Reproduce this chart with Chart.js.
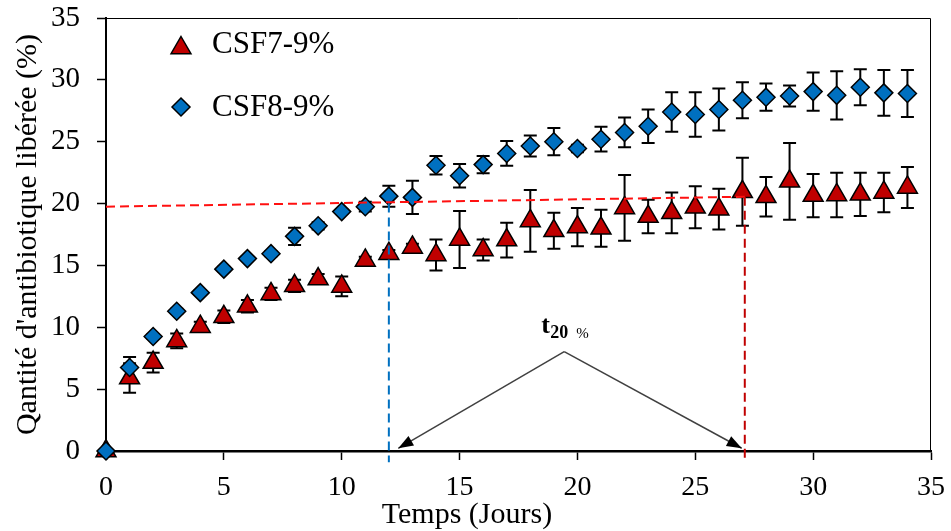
<!DOCTYPE html>
<html>
<head>
<meta charset="utf-8">
<script src="https://cdn.jsdelivr.net/npm/chart.js@4/dist/chart.umd.min.js"></script>
<style>
  html, body { margin: 0; padding: 0; background: #fff; }
  #wrap { width: 951px; height: 531px; }
</style>
</head>
<body>
<div id="wrap"><canvas id="chart" width="951" height="531"></canvas></div>
<script>
const FONT = '"Liberation Serif", "Times New Roman", serif';

const days = [0, 1, 2, 3, 4, 5, 6, 7, 8, 9, 10, 11, 12, 13, 14, 15, 16, 17, 18, 19, 20, 21, 22, 23, 24, 25, 26, 27, 28, 29, 30, 31, 32, 33, 34];

const csf7 = [0, 5.9, 7.15, 8.9, 10.05, 10.85, 11.7, 12.7, 13.35, 13.9, 13.3, 15.4, 15.95, 16.45, 15.85, 17.1, 16.25, 17.05, 18.6, 17.8, 18.1, 18.0, 19.65, 18.95, 19.25, 19.7, 19.55, 20.95, 20.55, 21.8, 20.65, 20.7, 20.75, 20.9, 21.3];
const csf7Err = [0, 1.2, 0.8, 0.6, 0.4, 0.5, 0.5, 0.5, 0.5, 0.4, 0.8, 0.3, 0.3, 0.3, 1.25, 2.3, 0.85, 1.4, 2.5, 1.45, 1.55, 1.5, 2.65, 1.35, 1.65, 1.7, 1.65, 2.75, 1.6, 3.1, 1.75, 1.8, 1.75, 1.6, 1.65];

const csf8 = [0, 6.75, 9.25, 11.3, 12.8, 14.7, 15.55, 15.95, 17.35, 18.2, 19.35, 19.75, 20.6, 20.5, 23.1, 22.25, 23.15, 24.05, 24.65, 25.0, 24.45, 25.2, 25.75, 26.25, 27.4, 27.2, 27.6, 28.35, 28.6, 28.7, 29.05, 28.75, 29.4, 28.95, 28.9];
const csf8Err = [0, 0.85, 0.2, 0.2, 0.2, 0.2, 0.2, 0.2, 0.7, 0.3, 0.2, 0.4, 0.85, 1.35, 0.75, 0.95, 0.7, 1.0, 0.85, 1.1, 0.3, 1.0, 1.2, 1.35, 1.6, 1.8, 1.7, 1.45, 1.1, 0.85, 1.55, 1.95, 1.45, 1.85, 1.9];

const seriesNames = ["CSF7-9%", "CSF8-9%"];
const xTitle = "Temps (Jours)";
const yTitle = "Qantité d'antibiotique libérée (%)";

// t20% guide lines (x, y in data units)
const guide20 = [{ x: 0, y: 19.75 }, { x: 27.1, y: 20.55 }];
const guide7 = [{ x: 27.1, y: 20.55 }, { x: 27.1, y: -0.9 }];
const guide8 = [{ x: 12, y: 20.0 }, { x: 12, y: -0.9 }];
const arrowLeft = [{ x: 19.44, y: 8.03 }, { x: 12.4, y: 0.22 }];
const arrowRight = [{ x: 19.44, y: 8.03 }, { x: 26.97, y: 0.22 }];

const toPoints = (xs, ys) => xs.map((x, i) => ({ x, y: ys[i] }));

const errorBars = {
  id: "errorBars",
  beforeDatasetsDraw(chart) {
    const { ctx, chartArea: a, scales: { y } } = chart;
    ctx.save();
    // plot frame (top and right)
    ctx.strokeStyle = "#000";
    ctx.lineWidth = 1;
    ctx.beginPath();
    ctx.moveTo(a.left, a.top + 0.5);
    ctx.lineTo(a.right - 0.5, a.top + 0.5);
    ctx.lineTo(a.right - 0.5, a.bottom);
    ctx.stroke();

    ctx.lineWidth = 2;
    chart.data.datasets.forEach((ds, i) => {
      if (!ds.errors) return;
      const meta = chart.getDatasetMeta(i);
      meta.data.forEach((pt, j) => {
        const e = ds.errors[j];
        if (!e) return;
        const v = ds.data[j].y;
        const top = y.getPixelForValue(v + e);
        const bot = y.getPixelForValue(v - e);
        ctx.beginPath();
        ctx.moveTo(pt.x, top);
        ctx.lineTo(pt.x, bot);
        ctx.moveTo(pt.x - 6.5, top);
        ctx.lineTo(pt.x + 6.5, top);
        ctx.moveTo(pt.x - 6.5, bot);
        ctx.lineTo(pt.x + 6.5, bot);
        ctx.stroke();
      });
    });
    ctx.restore();
  },
  afterDraw(chart) {
    const { ctx, scales: { x, y } } = chart;
    ctx.save();
    ctx.fillStyle = "#000";
    ctx.textBaseline = "alphabetic";

    // arrow heads at the end of both arrow datasets
    chart.data.datasets.forEach((ds, i) => {
      if (!ds.arrow) return;
      const pts = chart.getDatasetMeta(i).data;
      const p0 = pts[0], p1 = pts[pts.length - 1];
      const len = Math.hypot(p1.x - p0.x, p1.y - p0.y);
      const ux = (p1.x - p0.x) / len, uy = (p1.y - p0.y) / len;
      const L = 15, W = 5.5;
      ctx.beginPath();
      ctx.moveTo(p1.x, p1.y);
      ctx.lineTo(p1.x - ux * L - uy * W, p1.y - uy * L + ux * W);
      ctx.lineTo(p1.x - ux * L + uy * W, p1.y - uy * L - ux * W);
      ctx.closePath();
      ctx.fill();
    });

    // x axis title
    ctx.font = `30px ${FONT}`;
    ctx.textAlign = "center";
    ctx.fillText(xTitle, 467, 523);

    // t20% label above the arrows
    const ax = x.getPixelForValue(arrowLeft[0].x);
    const ay = y.getPixelForValue(arrowLeft[0].y);
    ctx.textAlign = "left";
    ctx.font = `bold 26px ${FONT}`;
    ctx.fillText("t", ax - 23, ay - 19);
    ctx.font = `bold 18px ${FONT}`;
    ctx.fillText("20", ax - 14, ay - 14);
    ctx.font = `15px ${FONT}`;
    ctx.fillText("%", ax + 12, ay - 14);

    // legend
    ctx.strokeStyle = "#000";
    ctx.lineWidth = 1.5;
    const r = 11.5;
    const tx = 181, ty = 48;
    ctx.beginPath();
    ctx.moveTo(tx, ty - r);
    ctx.lineTo(tx + r * 0.866, ty + r * 0.5);
    ctx.lineTo(tx - r * 0.866, ty + r * 0.5);
    ctx.closePath();
    ctx.fillStyle = "#C00000";
    ctx.fill();
    ctx.stroke();
    const d = 9, dx = 181, dy = 107;
    ctx.beginPath();
    ctx.moveTo(dx, dy - d);
    ctx.lineTo(dx + d, dy);
    ctx.lineTo(dx, dy + d);
    ctx.lineTo(dx - d, dy);
    ctx.closePath();
    ctx.fillStyle = "#0070C0";
    ctx.fill();
    ctx.stroke();
    ctx.fillStyle = "#000";
    ctx.font = `31px ${FONT}`;
    ctx.textBaseline = "middle";
    ctx.fillText(seriesNames[0], 212, 45);
    ctx.fillText(seriesNames[1], 212, 108);
    ctx.restore();
  },
};

const dashed = (data, color, order) => ({
  type: "line",
  data,
  borderColor: color,
  borderWidth: 2,
  borderDash: [9, 5],
  pointRadius: 0,
  clip: false,
  order,
});

const arrow = (data) => ({
  type: "line",
  data,
  arrow: true,
  borderColor: "#404040",
  borderWidth: 1.5,
  pointRadius: 0,
  clip: false,
  order: 0,
});

new Chart(document.getElementById("chart"), {
  type: "scatter",
  data: {
    datasets: [
      {
        label: seriesNames[0],
        data: toPoints(days, csf7),
        errors: csf7Err,
        pointStyle: "triangle",
        pointRadius: 11.5,
        pointBackgroundColor: "#C00000",
        pointBorderColor: "#000",
        pointBorderWidth: 1.5,
        clip: false,
        order: 3,
      },
      {
        label: seriesNames[1],
        data: toPoints(days, csf8),
        errors: csf8Err,
        pointStyle: "rectRot",
        pointRadius: 9,
        pointBackgroundColor: "#0070C0",
        pointBorderColor: "#000",
        pointBorderWidth: 1.5,
        clip: false,
        order: 2,
      },
      dashed(guide20, "#FF1010", 1),
      dashed(guide7, "#C00000", 1),
      dashed(guide8, "#0070C0", 1),
      arrow(arrowLeft),
      arrow(arrowRight),
    ],
  },
  options: {
    responsive: false,
    animation: false,
    layout: { padding: { top: 18, right: 20, left: 0, bottom: 0 } },
    plugins: { legend: { display: false }, tooltip: { enabled: false } },
    scales: {
      x: {
        type: "linear",
        min: 0,
        max: 35,
        ticks: { stepSize: 5, color: "#000", font: { family: FONT, size: 28 }, padding: 11, maxRotation: 0 },
        grid: { drawOnChartArea: false, drawTicks: true, tickLength: 9, color: "#000", tickWidth: 1.5 },
        border: { display: true, color: "#000", width: 2.5 },
        afterFit(scale) { scale.height = 80; scale.paddingLeft = 0; scale.paddingRight = 0; },
      },
      y: {
        min: 0,
        max: 35,
        ticks: { stepSize: 5, color: "#000", font: { family: FONT, size: 29 }, padding: 17 },
        grid: { drawOnChartArea: false, drawTicks: true, tickLength: 9, color: "#000", tickWidth: 1.5 },
        border: { display: true, color: "#000", width: 2 },
        title: { display: true, text: yTitle, color: "#000", font: { family: FONT, size: 30 }, padding: { top: 10, bottom: 0 } },
        afterFit(scale) { scale.width = 106; scale.paddingTop = 0; scale.paddingBottom = 0; },
      },
    },
  },
  plugins: [errorBars],
});
</script>
</body>
</html>
